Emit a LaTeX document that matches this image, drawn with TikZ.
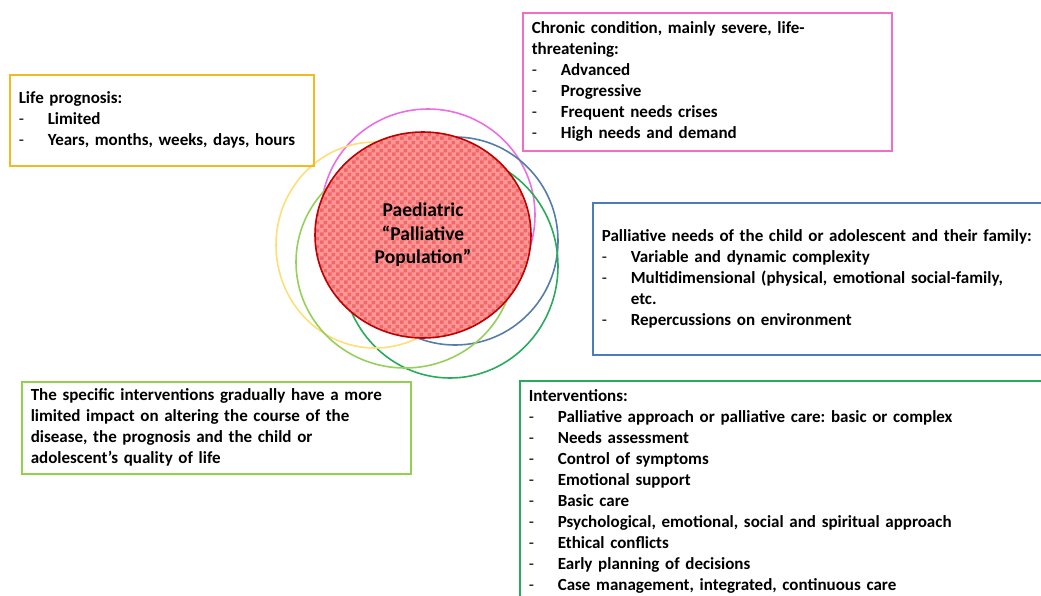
\documentclass[tikz,border=0pt]{standalone}
\usepackage{fontspec}
\setmainfont{Carlito}
\usepackage{xcolor}
\usetikzlibrary{patterns.meta}

\definecolor{popred}{RGB}{192,0,0}
\definecolor{popfill}{RGB}{255,150,150}
\definecolor{popcheck}{RGB}{240,105,105}
\definecolor{ringpink}{RGB}{236,110,228}
\definecolor{ringblue}{RGB}{84,125,170}
\definecolor{ringgreen}{RGB}{40,172,92}
\definecolor{ringyellow}{RGB}{255,222,120}
\definecolor{ringlime}{RGB}{150,208,90}
\definecolor{boxyellow}{RGB}{242,186,30}
\definecolor{boxpink}{RGB}{240,110,200}
\definecolor{boxblue}{RGB}{74,126,187}
\definecolor{boxlime}{RGB}{146,208,80}
\definecolor{boxgreen}{RGB}{40,172,92}

\tikzdeclarepattern{
  name=popchecks, type=uncolored,
  bottom left={(0pt,0pt)}, top right={(8pt,8pt)}, tile size={(8pt,8pt)},
  code={\fill (0pt,0pt) rectangle (4pt,4pt); \fill (4pt,4pt) rectangle (8pt,8pt);}
}

\newcommand{\dashitem}[1]{\makebox[29pt][l]{\mdseries -}#1}

\begin{document}
\begin{tikzpicture}[
  x=1pt, y=-1pt,
  ring/.style={line width=1.6pt},
  infobox/.style={draw, line width=1.6pt, anchor=north west, align=left,
    inner xsep=9pt, inner ysep=0pt,
    font=\fontsize{17pt}{21pt}\selectfont\bfseries\frenchspacing}
]
\clip (0,0) rectangle (1041,595);

\draw[ring, ringpink]   (428,215) ellipse [x radius=107, y radius=106];
\draw[ring, ringblue]   (455,241) ellipse [x radius=103, y radius=104];
\draw[ring, ringgreen]  (450,266) ellipse [x radius=108, y radius=112];
\draw[ring, ringyellow] (375,245) ellipse [x radius=99, y radius=103];
\draw[ring, ringlime]   (405,262) ellipse [x radius=109, y radius=106];

\fill[popfill] (423,235) ellipse [x radius=108, y radius=103];
\fill[pattern={popchecks}, pattern color=popcheck] (423,235) ellipse [x radius=108, y radius=103];
\draw[ring, popred] (423,235) ellipse [x radius=108, y radius=103];
\node[align=center, font=\fontsize{19.5pt}{23.5pt}\selectfont\bfseries] (pop) at (423,235)
  {Paediatric\\“Palliative\\Population”};

\node[infobox, draw=boxyellow, text width=286pt, minimum height=91pt] (prog) at (9,74)
  {Life prognosis:\\
   \dashitem{Limited}\\
   \dashitem{Years, months, weeks, days, hours}};

\node[infobox, draw=boxpink, text width=351pt, minimum height=138pt] (chronic) at (522,12)
  {Chronic condition, mainly severe, life-\\
   threatening:\\
   \dashitem{Advanced}\\
   \dashitem{Progressive}\\
   \dashitem{Frequent needs crises}\\
   \dashitem{High needs and demand}};

\node[infobox, draw=boxblue, text width=452pt, minimum height=152pt] (needs) at (592,202)
  {Palliative needs of the child or adolescent and their family:\\
   \dashitem{Variable and dynamic complexity}\\
   \dashitem{Multidimensional (physical, emotional social-family,}\\
   \hspace*{29pt}etc.\\
   \dashitem{Repercussions on environment}};

\node[infobox, draw=boxlime, text width=371pt, minimum height=92pt] (specific) at (21,381)
  {The specific interventions gradually have a more\\
   limited impact on altering the course of the\\
   disease, the prognosis and the child or\\
   adolescent’s quality of life};

\node[infobox, draw=boxgreen, text width=522pt, minimum height=222pt] (interv) at (519,380)
  {Interventions:\\
   \dashitem{Palliative approach or palliative care: basic or complex}\\
   \dashitem{Needs assessment}\\
   \dashitem{Control of symptoms}\\
   \dashitem{Emotional support}\\
   \dashitem{Basic care}\\
   \dashitem{Psychological, emotional, social and spiritual approach}\\
   \dashitem{Ethical conflicts}\\
   \dashitem{Early planning of decisions}\\
   \dashitem{Case management, integrated, continuous care}};
\end{tikzpicture}
\end{document}
